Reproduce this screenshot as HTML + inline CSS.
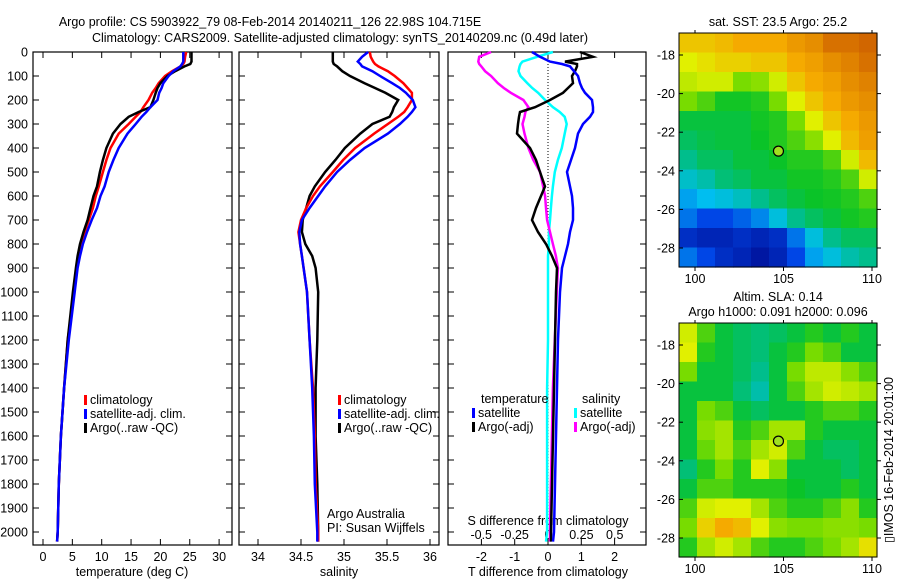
<!DOCTYPE html>
<html><head><meta charset="utf-8"><style>
body{margin:0;background:#fff;width:900px;height:580px;overflow:hidden}
svg text{font-family:"Liberation Sans",sans-serif;font-size:12.5px;fill:#000}
</style></head><body>
<svg id="c" width="900" height="580" xmlns="http://www.w3.org/2000/svg">
<text x="270" y="26" text-anchor="middle" font-size="13.5">Argo profile: CS 5903922_79 08-Feb-2014 20140211_126 22.98S 104.715E</text>
<text x="340" y="42" text-anchor="middle" font-size="13.5">Climatology: CARS2009. Satellite-adjusted climatology: synTS_20140209.nc (0.49d later)</text>
<text x="778" y="26" text-anchor="middle">sat. SST: 23.5 Argo: 25.2</text>
<text x="778" y="301" text-anchor="middle">Altim. SLA: 0.14</text>
<text x="778" y="316" text-anchor="middle">Argo h1000: 0.091 h2000: 0.096</text>
<text transform="translate(893,460) rotate(-90)" text-anchor="middle">▯IMOS 16-Feb-2014 20:01:00</text>
<g id="g"></g>
</svg>
<script>
const depths=[0,20,40,50,60,80,100,130,150,170,200,230,250,270,300,340,400,450,500,560,600,650,700,750,800,850,900,1000,1200,1400,1600,1800,2000,2040];
const tClim=[24.4,24.2,24.1,23.9,23.4,22.0,20.8,19.7,19.2,18.6,17.97,17.1,16.6,15.8,14.6,12.9,11.5,10.8,10.2,9.5,9.0,8.5,7.8,7.1,6.4,6.1,5.8,5.3,4.2,3.6,3.05,2.7,2.5,2.4];
const tSat=[23.9,23.9,23.9,23.7,23.4,22.2,21.4,20.5,20.2,19.8,19.5,18.3,17.6,16.8,15.8,14.4,12.9,12.0,11.2,10.5,9.8,9.2,8.3,7.5,6.8,6.3,5.9,5.4,4.4,3.6,3.05,2.7,2.5,2.4];
const tArgo=[25.3,25.3,25.3,25.1,24.1,22.5,21.2,20.0,19.5,19.2,18.8,18.3,16.3,14.6,13.2,11.9,10.8,10.2,9.7,9.2,8.6,8.1,7.6,6.9,6.3,5.9,5.6,5.1,4.2,3.6,3.05,2.7,2.5,2.4];
const sClim=[35.30,35.31,35.34,35.36,35.40,35.51,35.59,35.69,35.74,35.79,35.79,35.74,35.70,35.63,35.51,35.35,35.13,34.99,34.87,34.72,34.64,34.56,34.50,34.47,34.49,34.51,34.53,34.57,34.60,34.64,34.66,34.67,34.70,34.70];
const sSat=[35.28,35.21,35.16,35.19,35.21,35.33,35.42,35.56,35.65,35.72,35.80,35.83,35.79,35.74,35.65,35.51,35.24,35.07,34.92,34.78,34.70,34.60,34.51,34.48,34.49,34.51,34.53,34.57,34.60,34.63,34.65,34.66,34.69,34.69];
const sArgo=[34.87,34.87,34.87,34.88,34.92,34.98,35.07,35.24,35.36,35.48,35.63,35.58,35.56,35.53,35.33,35.19,35.01,34.90,34.78,34.66,34.60,34.56,34.52,34.51,34.55,34.63,34.67,34.70,34.69,34.67,34.67,34.69,34.70,34.70];
const dTSat=[-0.48,-0.24,0.06,0.42,0.66,0.78,0.90,0.96,1.02,1.11,1.32,1.35,1.35,1.26,1.05,0.90,0.81,0.69,0.57,0.66,0.72,0.75,0.75,0.66,0.60,0.51,0.42,0.36,0.30,0.27,0.24,0.21,0.18,0.15];
const dTArgo=[0.96,1.35,0.51,0.87,0.87,0.81,0.72,0.75,0.60,0.45,0.06,-0.39,-0.84,-0.87,-0.90,-0.93,-0.54,-0.36,-0.24,-0.09,-0.21,-0.36,-0.48,-0.30,-0.06,0.12,0.27,0.24,0.21,0.18,0.15,0.12,0.09,0.09];
const dSSat=[0.037,-0.081,-0.191,-0.206,-0.213,-0.221,-0.206,-0.154,-0.118,-0.074,-0.022,0.037,0.088,0.125,0.140,0.125,0.103,0.074,0.051,0.037,0.029,0.022,0.015,0.007,0.007,0,0,0,0,-0.007,-0.007,-0.007,-0.007,-0.015];
const dSArgo=[-0.426,-0.515,-0.522,-0.515,-0.5,-0.471,-0.426,-0.375,-0.331,-0.279,-0.184,-0.147,-0.169,-0.176,-0.191,-0.176,-0.147,-0.110,-0.059,-0.037,-0.022,-0.015,-0.007,0.015,0.037,0.059,0.074,0.066,0.051,0.037,0.029,0.022,0.015,0.015];
const depthTicks=[0,100,200,300,400,500,600,700,800,900,1000,1100,1200,1300,1400,1500,1600,1700,1800,1900,2000];
const tTicks=[0,5,10,15,20,25,30];
const sTicks=[34,34.5,35,35.5,36];
const dTTicks=[-2,-1,0,1,2];
const dSTicks=[-0.5,-0.25,0,0.25,0.5];
const dSTickLabels=["-0.5","-0.25","0","0.25","0.5"];
const sstGrid=[
[0.8,0.8,0.82,0.85,0.85,0.85,0.88,0.9,0.95,0.95,0.97],
[0.72,0.75,0.78,0.78,0.8,0.8,0.85,0.87,0.9,0.92,0.95],
[0.68,0.7,0.7,0.6,0.62,0.7,0.8,0.85,0.87,0.9,0.92],
[0.6,0.55,0.48,0.48,0.5,0.6,0.72,0.8,0.85,0.88,0.9],
[0.45,0.45,0.45,0.45,0.48,0.5,0.6,0.72,0.8,0.85,0.88],
[0.42,0.44,0.45,0.45,0.47,0.5,0.55,0.62,0.72,0.82,0.87],
[0.38,0.42,0.42,0.45,0.45,0.47,0.5,0.5,0.55,0.7,0.82],
[0.32,0.35,0.4,0.42,0.45,0.45,0.48,0.48,0.5,0.55,0.7],
[0.25,0.28,0.3,0.33,0.38,0.42,0.45,0.47,0.48,0.5,0.55],
[0.2,0.15,0.15,0.18,0.22,0.3,0.38,0.42,0.45,0.48,0.5],
[0.1,0.08,0.08,0.1,0.08,0.1,0.2,0.3,0.38,0.42,0.42],
[0.2,0.15,0.1,0.08,0.05,0.08,0.15,0.25,0.3,0.35,0.38]];
const slaGrid=[
[0.7,0.55,0.45,0.42,0.4,0.42,0.45,0.5,0.45,0.5,0.45],
[0.72,0.5,0.45,0.42,0.4,0.45,0.5,0.6,0.55,0.45,0.45],
[0.6,0.45,0.45,0.42,0.38,0.45,0.6,0.68,0.68,0.62,0.55],
[0.45,0.45,0.45,0.4,0.35,0.45,0.55,0.65,0.7,0.68,0.65],
[0.45,0.6,0.55,0.45,0.42,0.45,0.45,0.5,0.55,0.55,0.5],
[0.45,0.62,0.65,0.5,0.55,0.65,0.65,0.5,0.45,0.45,0.45],
[0.45,0.58,0.65,0.55,0.65,0.7,0.55,0.45,0.42,0.42,0.45],
[0.4,0.5,0.6,0.5,0.72,0.62,0.45,0.45,0.45,0.42,0.45],
[0.45,0.55,0.55,0.5,0.5,0.5,0.47,0.45,0.45,0.5,0.45],
[0.55,0.7,0.72,0.72,0.65,0.55,0.5,0.5,0.55,0.62,0.5],
[0.6,0.78,0.85,0.82,0.72,0.62,0.6,0.6,0.62,0.62,0.6],
[0.5,0.65,0.7,0.65,0.55,0.5,0.5,0.55,0.6,0.65,0.75]];
const latTicks=[-18,-20,-22,-24,-26,-28];
const lonTicks=[100,105,110];
const argoLon=104.715, argoLat=-22.98;

const NS="http://www.w3.org/2000/svg";
const G=document.getElementById('g');
function el(t,a,p){const e=document.createElementNS(NS,t);for(const k in a)e.setAttribute(k,a[k]);(p||G).appendChild(e);return e;}
function tx(x,y,s,anchor){const e=el('text',{x:x,y:y,'text-anchor':anchor||'middle'});e.textContent=s;return e;}
const yD=d=>52+d*0.24;
const TOP=52,BOT=545;
const xT=v=>43+5.87*v, xS=v=>258+86*(v-34), xDT=v=>548+33.3*v, xDS=v=>548+133.5*v;

function frame(x0,x1,name){
  const r=el('rect',{x:x0,y:TOP,width:x1-x0,height:BOT-TOP,fill:'none',stroke:'#000','stroke-width':1.2});
  
  
  depthTicks.forEach(d=>{el('line',{x1:x0,x2:x0+6,y1:yD(d),y2:yD(d),stroke:'#000'});el('line',{x1:x1,x2:x1-6,y1:yD(d),y2:yD(d),stroke:'#000'});});
}
function xticks(x0,x1,ticks,f,labels,ly,both){
  ticks.forEach((t,i)=>{const x=f(t);el('line',{x1:x,x2:x,y1:BOT,y2:BOT-6,stroke:'#000'});if(both)el('line',{x1:x,x2:x,y1:TOP,y2:TOP+6,stroke:'#000'});
    if(labels)tx(x,ly,labels[i]);});
}
function line(vals,f,color,w,name){
  const pts=vals.map((v,i)=>f(v).toFixed(1)+','+yD(depths[i]).toFixed(1)).join(' ');
  const p=el('polyline',{points:pts,fill:'none',stroke:color,'stroke-width':w,'stroke-linejoin':'miter'});
  
  
}
function legend(x,y,color,label,name){
  el('rect',{x:x,y:y-9,width:3,height:10,fill:color});
  const t=tx(x+6,y,label,'start');
  
  
}
frame(33,232,'temperature-panel');
depthTicks.forEach(d=>{tx(28,yD(d)+4.5,String(d),'end');});
xticks(33,232,tTicks,xT,tTicks.map(String),561,true);
tx(132,576,'temperature (deg C)');
line(tClim,xT,'#f00',2.5,'temperature-climatology-line');
line(tArgo,xT,'#000',2.5,'temperature-argo-line');
line(tSat,xT,'#00f',2.5,'temperature-satellite-line');
legend(84,404,'#f00','climatology','legend-climatology');
legend(84,418,'#00f','satellite-adj. clim.','legend-satellite');
legend(84,432,'#000','Argo(..raw -QC)','legend-argo');
frame(239,439,'salinity-panel');
xticks(239,439,sTicks,xS,sTicks.map(String),561,true);
tx(339,576,'salinity');
line(sArgo,xS,'#000',2.5,'salinity-argo-line');
line(sClim,xS,'#f00',2.5,'salinity-climatology-line');
line(sSat,xS,'#00f',2.5,'salinity-satellite-line');
legend(338,404,'#f00','climatology','legend-climatology-2');
legend(338,418,'#00f','satellite-adj. clim.','legend-satellite-2');
legend(338,432,'#000','Argo(..raw -QC)','legend-argo-2');
tx(327,518,'Argo Australia','start');
tx(327,532,'PI: Susan Wijffels','start');
frame(448,646,'difference-panel');
xticks(448,646,dTTicks,xDT,dTTicks.map(String),561,true);
dSTicks.forEach((t,i)=>tx(xDS(t),539,dSTickLabels[i]));
tx(548,525,'S difference from climatology');
tx(548,576,'T difference from climatology');
el('line',{x1:548,x2:548,y1:TOP,y2:BOT-20,stroke:'#000','stroke-dasharray':'1,2'});
line(dSSat,xDS,'#0ff',2.5,'salinity-satellite-diff-line');
line(dSArgo,xDS,'#f0f',2.5,'salinity-argo-diff-line');
line(dTArgo,xDT,'#000',2.5,'temperature-argo-diff-line');
line(dTSat,xDT,'#00f',2.5,'temperature-satellite-diff-line');
tx(481,403,'temperature','start');
legend(472,417,'#00f','satellite','legend-t-satellite');
legend(472,431,'#000','Argo(-adj)','legend-t-argo');
tx(582,403,'salinity','start');
legend(574,417,'#0ff','satellite','legend-s-satellite');
legend(574,431,'#f0f','Argo(-adj)','legend-s-argo');

const stops=[[0,[0,0,128]],[0.15,[0,70,230]],[0.28,[0,190,240]],[0.38,[0,190,140]],[0.47,[10,195,40]],[0.6,[120,220,0]],[0.72,[225,240,0]],[0.85,[245,170,0]],[1,[200,85,0]]];
function cmap(v){for(let i=1;i<stops.length;i++){if(v<=stops[i][0]){const a=stops[i-1],b=stops[i],f=(v-a[0])/(b[0]-a[0]);return 'rgb('+a[1].map((c,k)=>Math.round(c+(b[1][k]-c)*f)).join(',')+')';}}return 'rgb(200,85,0)';}
function map(top,grid,name){
  const x0=679,x1=877,bot=top+234;
  const lonX=l=>695+17.7*(l-100), latY=l=>top+22+19.3*(-18-l);
  const g=el('g',{});
  
  
  const nr=grid.length,nc=grid[0].length;
  const cw=(x1-x0)/nc,ch=(bot-top)/nr;
  grid.forEach((row,r)=>row.forEach((v,c)=>{
    el('rect',{x:(x0+c*cw).toFixed(1),y:(top+r*ch).toFixed(1),width:(cw+0.6).toFixed(1),height:(ch+0.6).toFixed(1),fill:cmap(v)},g);
  }));
  el('rect',{x:x0,y:top,width:x1-x0,height:bot-top,fill:'none',stroke:'#000'});
  latTicks.forEach(l=>{const y=latY(l);el('line',{x1:x0,x2:x0+4,y1:y,y2:y,stroke:'#000'});el('line',{x1:x1,x2:x1+4,y1:y,y2:y,stroke:'#000'});tx(675,y+4.5,String(l),'end');});
  lonTicks.forEach(l=>{const x=lonX(l);el('line',{x1:x,x2:x,y1:bot,y2:bot+4,stroke:'#000'});el('line',{x1:x,x2:x,y1:top,y2:top-3,stroke:'#000'});tx(x,bot+16,String(l));});
  const m=el('circle',{cx:lonX(argoLon),cy:latY(argoLat),r:5,fill:'#a0e020',stroke:'#000','stroke-width':1.2});
  
  
}
map(33,sstGrid,'sst-map');
map(323,slaGrid,'sla-map');
</script>
</body></html>
